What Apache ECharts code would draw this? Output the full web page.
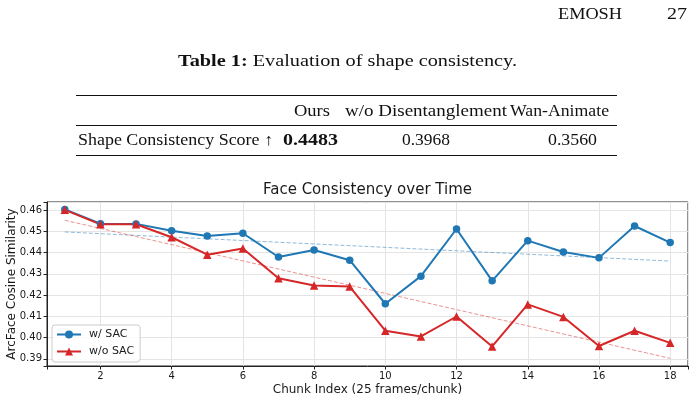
<!DOCTYPE html>
<html>
<head>
<meta charset="utf-8">
<script src="https://cdn.jsdelivr.net/npm/echarts@6.0.0/dist/echarts.min.js"></script>
<style>
  html, body { margin: 0; padding: 0; background: #fff; }
  #page { position: relative; width: 699px; height: 401px; overflow: hidden; }
  #chart { position: absolute; left: 0; top: 0; width: 699px; height: 401px; }
  .tx { position: absolute; font-family: "Liberation Serif", serif; font-size: 16.5px; line-height: 16.5px; color: #111; white-space: nowrap; z-index: 2; transform-origin: 0 50%; }
  .rule { position: absolute; left: 76px; width: 541px; background: #111; z-index: 2; }
</style>
</head>
<body>
<div id="page">
  <div id="chart"></div>

  <!-- page header; data-w = width of the text in the figure -->
  <div class="tx" data-w="64" style="left:558px; top:5.5px;">EMOSH</div>
  <div class="tx" data-w="20" style="left:667px; top:5.5px;">27</div>

  <!-- table caption -->
  <div class="tx" data-w="339" style="left:178px; top:52.6px;"><b>Table 1:</b> Evaluation of shape consistency.</div>

  <!-- table -->
  <div class="rule" style="top:95px; height:1.4px;"></div>
  <div class="tx" data-w="36" style="left:294px; top:102.6px;">Ours</div>
  <div class="tx" data-w="162" style="left:345px; top:102.6px;">w/o Disentanglement</div>
  <div class="tx" data-w="99" style="left:510px; top:102.6px;">Wan-Animate</div>
  <div class="rule" style="top:125px; height:0.9px;"></div>
  <div class="tx" data-w="195" style="left:78px; top:132.2px;">Shape Consistency Score ↑</div>
  <div class="tx" data-w="55" style="left:283px; top:132.2px;"><b>0.4483</b></div>
  <div class="tx" data-w="48" style="left:402px; top:132.2px;">0.3968</div>
  <div class="tx" data-w="49" style="left:548px; top:132.2px;">0.3560</div>
  <div class="rule" style="top:155px; height:1.4px;"></div>
</div>

<script>
// widen the serif text so each piece spans the same width as in the figure
document.querySelectorAll('.tx[data-w]').forEach(el => {
  const natural = el.getBoundingClientRect().width;
  el.style.transform = 'scaleX(' + (parseFloat(el.dataset.w) / natural) + ')';
});

// chunk index 1..18
const chunks = [1, 2, 3, 4, 5, 6, 7, 8, 9, 10, 11, 12, 13, 14, 15, 16, 17, 18];

// ArcFace cosine similarity per chunk
const withSac = [0.4603, 0.4536, 0.4535, 0.4503, 0.4478, 0.4491, 0.4379, 0.4412, 0.4364,
                 0.4159, 0.4289, 0.4511, 0.4267, 0.4456, 0.4403, 0.4375, 0.4525, 0.4447];
const withoutSac = [0.4601, 0.4533, 0.4533, 0.4472, 0.4390, 0.4419, 0.4279, 0.4245, 0.4240,
                    0.4032, 0.4005, 0.4099, 0.3958, 0.4156, 0.4097, 0.3960, 0.4032, 0.3975];

// dashed trend lines, end points
const withSacTrend = [[1, 0.4497], [18, 0.4360]];
const withoutSacTrend = [[1, 0.4552], [18, 0.3902]];

const BLUE = '#1f77b4';
const RED = '#d62728';
const TEXT = '#1a1a1a';
const FONT = '"DejaVu Sans", sans-serif';

const chart = echarts.init(document.getElementById('chart'));

chart.setOption({
  animation: false,
  title: {
    text: 'Face Consistency over Time',
    left: 367.5,
    top: 183,
    padding: 0,
    textAlign: 'center',
    textStyle: { fontFamily: FONT, fontSize: 15, fontWeight: 'normal', color: TEXT }
  },
  legend: {
    data: ['w/ SAC', 'w/o SAC'],
    orient: 'vertical',
    left: 52,
    top: 325,
    padding: [4, 6, 5, 4],
    itemGap: 6,
    itemWidth: 24,
    itemHeight: 10,
    backgroundColor: 'rgba(255,255,255,0.85)',
    borderColor: '#cccccc',
    borderWidth: 1,
    borderRadius: 3,
    textStyle: { fontFamily: FONT, fontSize: 11, color: TEXT, padding: [0, 0, 0, 3] }
  },
  grid: {
    left: 47, right: 11, top: 202, bottom: 35,
    outerBoundsMode: 'none',
    containLabel: false,
    show: true,
    borderColor: '#222',
    borderWidth: 1
  },
  xAxis: {
    type: 'value',
    min: 0.5,
    max: 18.5,
    splitNumber: 9,
    name: 'Chunk Index (25 frames/chunk)',
    nameLocation: 'middle',
    nameGap: 18,
    nameMoveOverlap: false,
    nameTextStyle: { fontFamily: FONT, fontSize: 12, color: TEXT },
    axisLine: { show: true, lineStyle: { color: '#222', width: 1 } },
    axisTick: { show: true, length: 3.5, lineStyle: { color: '#222' } },
    axisLabel: {
      fontFamily: FONT, fontSize: 10, color: TEXT, margin: 5,
      formatter: v => (Math.abs(v - Math.round(v)) < 1e-6 && Math.round(v) % 2 === 0) ? String(Math.round(v)) : ''
    },
    splitLine: { show: true, lineStyle: { color: '#e4e4e4', width: 1 } }
  },
  yAxis: {
    type: 'value',
    min: 0.3866,
    max: 0.4638,
    splitNumber: 8,
    name: 'ArcFace Cosine Similarity',
    nameLocation: 'middle',
    nameGap: 29,
    nameMoveOverlap: false,
    nameTextStyle: { fontFamily: FONT, fontSize: 12, color: TEXT },
    axisLine: { show: true, lineStyle: { color: '#222', width: 1 } },
    axisTick: { show: true, length: 3.5, lineStyle: { color: '#222' } },
    axisLabel: {
      fontFamily: FONT, fontSize: 10, color: TEXT, margin: 5,
      formatter: v => Math.abs(v * 100 - Math.round(v * 100)) < 1e-6 ? v.toFixed(2) : ''
    },
    splitLine: { show: true, lineStyle: { color: '#e4e4e4', width: 1 } }
  },
  series: [
    {
      name: 'w/ SAC trend',
      type: 'line',
      data: withSacTrend,
      symbol: 'none',
      silent: true,
      lineStyle: { color: 'rgba(31,119,180,0.5)', width: 1, type: [4, 2] }
    },
    {
      name: 'w/o SAC trend',
      type: 'line',
      data: withoutSacTrend,
      symbol: 'none',
      silent: true,
      lineStyle: { color: 'rgba(214,39,40,0.5)', width: 1, type: [4, 2] }
    },
    {
      name: 'w/ SAC',
      type: 'line',
      data: chunks.map((c, i) => [c, withSac[i]]),
      symbol: 'circle',
      symbolSize: 7.5,
      itemStyle: { color: BLUE },
      lineStyle: { color: BLUE, width: 2 }
    },
    {
      name: 'w/o SAC',
      type: 'line',
      data: chunks.map((c, i) => [c, withoutSac[i]]),
      symbol: 'triangle',
      symbolSize: 8.5,
      itemStyle: { color: RED },
      lineStyle: { color: RED, width: 2 }
    }
  ]
});
</script>
</body>
</html>
